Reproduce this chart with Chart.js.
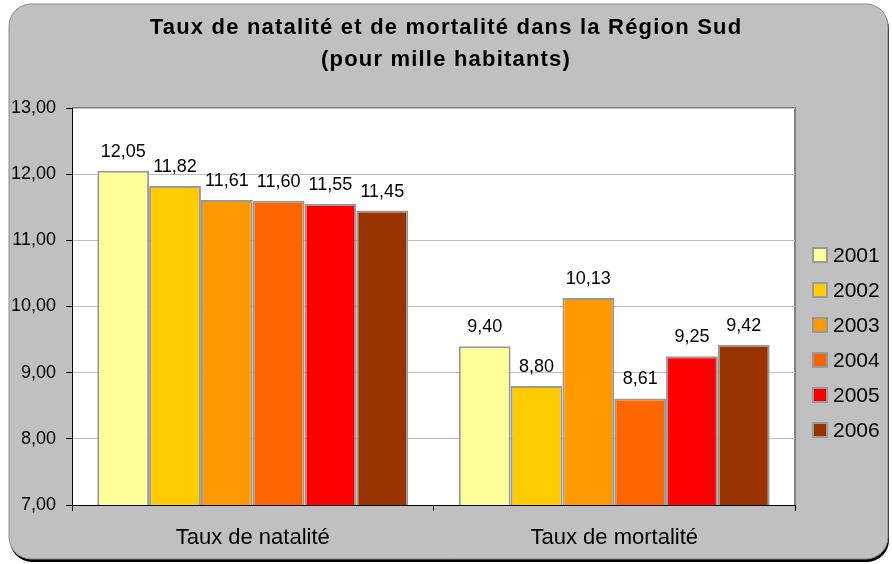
<!DOCTYPE html>
<html><head><meta charset="utf-8">
<script src="https://cdn.jsdelivr.net/npm/chart.js@4/dist/chart.umd.min.js"></script>
<style>html,body{margin:0;padding:0;background:#fff;}#wrap{width:892px;height:564px;}</style>
</head><body><div id="wrap"><canvas id="c" width="892" height="564"></canvas></div>
<script>
const titleLines = ['Taux de natalité et de mortalité dans la Région Sud', '(pour mille habitants)'];
const categories = ['Taux de natalité', 'Taux de mortalité'];
const years = ['2001', '2002', '2003', '2004', '2005', '2006'];
const v2001 = [12.05, 9.40];
const v2002 = [11.82, 8.80];
const v2003 = [11.61, 10.13];
const v2004 = [11.60, 8.61];
const v2005 = [11.55, 9.25];
const v2006 = [11.45, 9.42];
const seriesValues = [v2001, v2002, v2003, v2004, v2005, v2006];
const yTicks = [7, 8, 9, 10, 11, 12, 13];
const colors = ['#FFFF99', '#FFCC00', '#FF9900', '#FF6600', '#FF0000', '#993300'];

const FONT = '"Liberation Sans", Arial, sans-serif';
const fmt = v => v.toFixed(2).replace('.', ',');

function rr(ctx, x, y, w, h, r) {
  ctx.beginPath();
  ctx.moveTo(x + r, y);
  ctx.lineTo(x + w - r, y);
  ctx.arcTo(x + w, y, x + w, y + r, r);
  ctx.lineTo(x + w, y + h - r);
  ctx.arcTo(x + w, y + h, x + w - r, y + h, r);
  ctx.lineTo(x + r, y + h);
  ctx.arcTo(x, y + h, x, y + h - r, r);
  ctx.lineTo(x, y + r);
  ctx.arcTo(x, y, x + r, y, r);
  ctx.closePath();
}

const decor = {
  id: 'decor',
  beforeDraw(chart) {
    const ctx = chart.ctx, a = chart.chartArea;
    ctx.save();
    ctx.fillStyle = '#ffffff';
    ctx.fillRect(0, 0, chart.width, chart.height);
    rr(ctx, 10, 7, 879, 555, 22);
    ctx.fillStyle = '#000000';
    ctx.fill();
    rr(ctx, 9, 4, 879, 555, 22);
    ctx.fillStyle = '#c0c0c0';
    ctx.fill();
    ctx.strokeStyle = '#8c8c8c';
    ctx.lineWidth = 1;
    ctx.stroke();
    ctx.fillStyle = '#ffffff';
    ctx.fillRect(a.left, a.top, a.right - a.left, a.bottom - a.top);
    ctx.strokeStyle = '#808080';
    ctx.lineWidth = 2;
    ctx.beginPath();
    ctx.moveTo(a.left, a.top);
    ctx.lineTo(a.right, a.top);
    ctx.lineTo(a.right, a.bottom);
    ctx.stroke();
    ctx.restore();
  },
  afterDatasetsDraw(chart) {
    const ctx = chart.ctx;
    ctx.save();
    ctx.font = '18px ' + FONT;
    ctx.fillStyle = '#000';
    ctx.textAlign = 'center';
    ctx.textBaseline = 'middle';
    chart.data.datasets.forEach((ds, i) => {
      const meta = chart.getDatasetMeta(i);
      meta.data.forEach((bar, j) => {
        ctx.fillText(fmt(ds.data[j]), bar.x, bar.y - 19);
      });
    });
    ctx.restore();
  },
  afterDraw(chart) {
    const ctx = chart.ctx;
    ctx.save();
    // title
    ctx.font = 'bold 22px ' + FONT;
    ctx.fillStyle = '#000';
    ctx.textAlign = 'center';
    ctx.textBaseline = 'middle';
    try { ctx.letterSpacing = '1.2px'; } catch (e) {}
    ctx.fillText(titleLines[0], 446, 28);
    ctx.fillText(titleLines[1], 446, 60);
    try { ctx.letterSpacing = '0px'; } catch (e) {}
    // legend
    ctx.font = '21px ' + FONT;
    ctx.textAlign = 'left';
    chart.data.datasets.forEach((ds, i) => {
      const cy = 255 + i * 35;
      ctx.fillStyle = ds.backgroundColor;
      ctx.fillRect(813, cy - 7, 14, 14);
      ctx.strokeStyle = '#999999';
      ctx.lineWidth = 2;
      ctx.strokeRect(813, cy - 7, 14, 14);
      ctx.fillStyle = '#000';
      ctx.fillText(ds.label, 833, cy + 1);
    });
    ctx.restore();
  }
};

new Chart(document.getElementById('c'), {
  type: 'bar',
  data: {
    labels: categories,
    datasets: years.map((y, i) => ({
      label: y,
      data: seriesValues[i],
      backgroundColor: colors[i],
      borderColor: '#999999',
      borderWidth: 2,
      categoryPercentage: 0.86,
      barPercentage: 1.0
    }))
  },
  options: {
    responsive: false,
    animation: false,
    devicePixelRatio: 1,
    layout: { padding: { top: 108, right: 97, left: 0, bottom: 0 } },
    plugins: { legend: { display: false }, title: { display: false }, tooltip: { enabled: false } },
    scales: {
      x: {
        afterFit(s) { s.height = 59; },
        grid: { offset: true, drawOnChartArea: false, color: '#000', tickColor: '#000', tickLength: 6 },
        border: { color: '#000', width: 1 },
        ticks: { color: '#000', font: { family: FONT, size: 22 }, padding: 14 }
      },
      y: {
        min: 7, max: 13,
        afterFit(s) { s.width = 72; },
        afterBuildTicks(s) { s.ticks = yTicks.map(v => ({ value: v })); },
        grid: { color: '#c0c0c0', tickColor: '#000', tickLength: 6 },
        border: { color: '#000', width: 1 },
        ticks: { color: '#000', font: { family: FONT, size: 18 }, padding: 10, callback: v => fmt(v) }
      }
    }
  },
  plugins: [decor]
});
</script>
</body></html>
